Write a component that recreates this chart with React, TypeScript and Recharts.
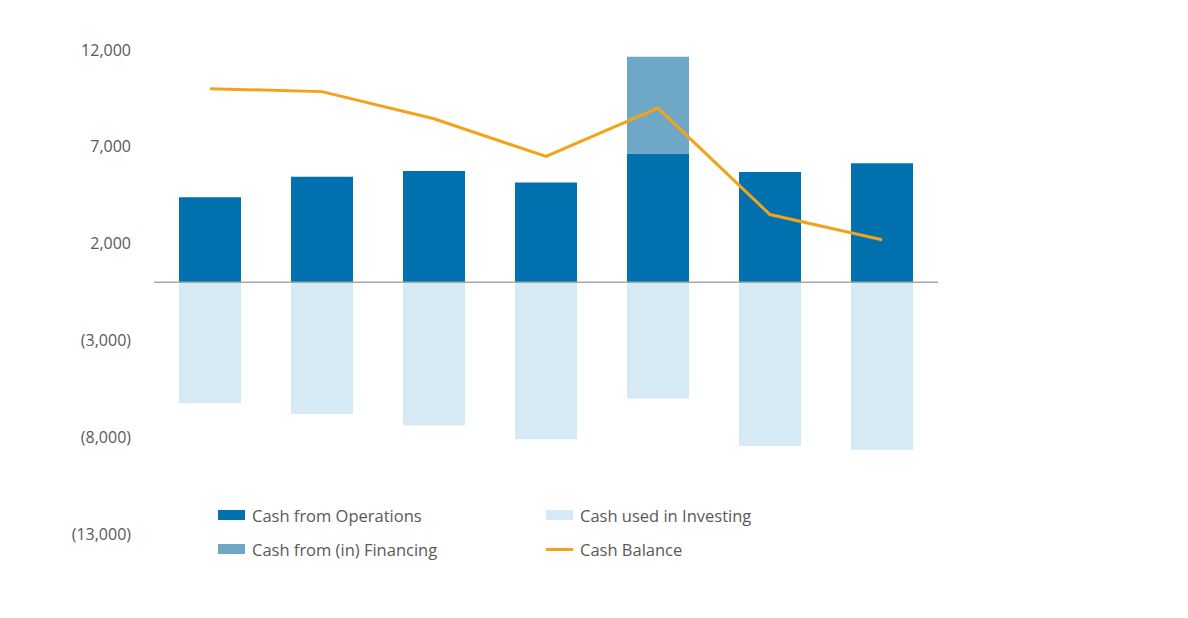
import {
  ComposedChart,
  Bar,
  Line,
  XAxis,
  YAxis,
  ReferenceLine,
  Legend,
} from "recharts";

const periods = ["P1", "P2", "P3", "P4", "P5", "P6", "P7"];
const operations = [4400, 5450, 5750, 5150, 6650, 5700, 6150];
const financing = [0, 0, 0, 0, 5000, 0, 0];
const investing = [-6250, -6800, -7400, -8100, -6000, -8450, -8650];
const balance = [10000, 9850, 8450, 6500, 9000, 3500, 2200];
const yTicks = [12000, 7000, 2000, -3000, -8000, -13000];

const data = periods.map((p, i) => ({
  period: p,
  operations: operations[i],
  financing: financing[i],
  investing: investing[i],
  balance: balance[i],
}));

const legendItems = [
  { label: "Cash from Operations", color: "#0070AE", kind: "box" },
  { label: "Cash used in Investing", color: "#D6EAF5", kind: "box" },
  { label: "Cash from (in) Financing", color: "#6FA8C6", kind: "box" },
  { label: "Cash Balance", color: "#F5A21B", kind: "line" },
];

const fmt = (v: number) =>
  v < 0 ? `(${Math.abs(v).toLocaleString("en-US")})` : v.toLocaleString("en-US");

function ChartLegend() {
  return (
    <div
      style={{
        display: "grid",
        gridTemplateColumns: "328px 300px",
        rowGap: 14,
        fontFamily: "'Open Sans', sans-serif",
        fontSize: 16.5,
        color: "#595959",
      }}
    >
      {legendItems.map((it) => (
        <div key={it.label} style={{ display: "flex", alignItems: "center", height: 20 }}>
          <span
            style={{
              display: "inline-block",
              width: 27,
              height: it.kind === "box" ? 10 : 3,
              background: it.color,
              marginRight: 7,
            }}
          />
          {it.label}
        </div>
      ))}
    </div>
  );
}

export default function App() {
  return (
    <div style={{ width: 1180, height: 610 }}>
      <ComposedChart
        width={1180}
        height={610}
        data={data}
        stackOffset="sign"
        margin={{ top: 42, right: 250, bottom: 30, left: 0 }}
      >
        <XAxis dataKey="period" hide />
        <YAxis
          width={146}
          domain={[-13000, 12000]}
          ticks={yTicks}
          interval={0}
          axisLine={false}
          tickLine={false}
          tickSize={0}
          tickMargin={23}
          tickFormatter={fmt}
          tick={{ fill: "#595959", fontSize: 16, fontFamily: "'Open Sans', sans-serif" }}
        />
        <Bar dataKey="operations" stackId="a" fill="#0070AE" barSize={62} isAnimationActive={false} />
        <Bar dataKey="financing" stackId="a" fill="#6FA8C6" barSize={62} isAnimationActive={false} />
        <Bar dataKey="investing" stackId="a" fill="#D6EAF5" barSize={62} isAnimationActive={false} />
        <ReferenceLine y={0} stroke="#A6A6A6" strokeWidth={1.5} />
        <Line
          dataKey="balance"
          type="linear"
          stroke="#F5A21B"
          strokeWidth={3}
          dot={false}
          activeDot={false}
          isAnimationActive={false}
        />
        <Legend
          content={() => <ChartLegend />}
          wrapperStyle={{ position: "absolute", left: 210, top: 497, width: 640 }}
        />
      </ComposedChart>
    </div>
  );
}
